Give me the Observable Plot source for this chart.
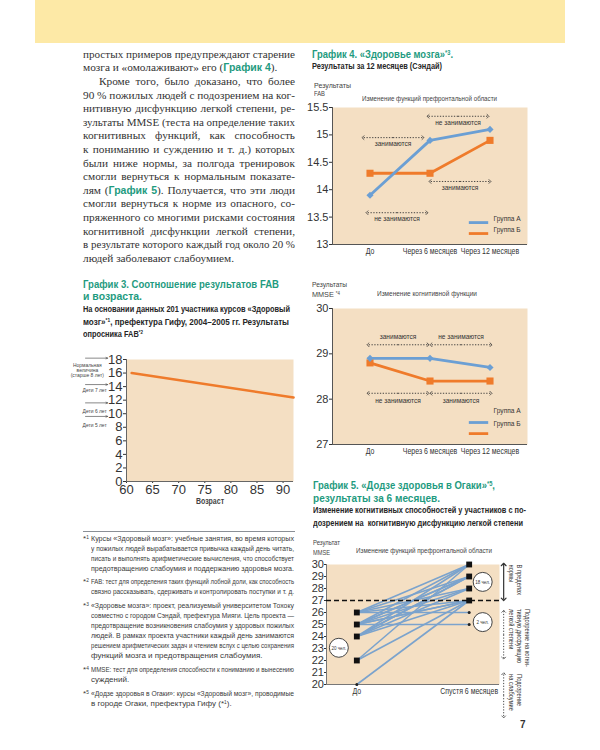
<!DOCTYPE html>
<html lang="ru"><head><meta charset="utf-8">
<script src="https://cdn.jsdelivr.net/npm/d3@7"></script>
<script src="https://cdn.jsdelivr.net/npm/@observablehq/plot@0.6"></script>
<style>
html,body{margin:0;padding:0;background:#fff;}
#page{position:relative;width:600px;height:750px;overflow:hidden;background:#fff;}
.ln{position:absolute;white-space:nowrap;overflow:visible;}
.ser{font-family:"Liberation Serif","DejaVu Serif",serif;font-size:11.3px;color:#333;}
.ttl{font-family:"Liberation Sans Narrow","Liberation Sans",Arial,sans-serif;font-weight:bold;font-size:11.5px;color:#1f9b7f;}
.sub{font-family:"Liberation Sans Narrow","Liberation Sans",Arial,sans-serif;font-weight:bold;font-size:9.5px;color:#262626;}
.sm{font-family:"Liberation Sans Narrow","Liberation Sans",Arial,sans-serif;font-size:7.5px;color:#444;}
.fn{font-family:"Liberation Sans Narrow","Liberation Sans",Arial,sans-serif;font-size:8px;color:#3a3a3a;}
.tl{font-family:"Liberation Sans Narrow","Liberation Sans",sans-serif;font-weight:bold;color:#1f9b7f;font-size:10.5px;}
.sup{font-size:0.6em;vertical-align:0.5em;line-height:0;}
.chart{position:absolute;}
#band{position:absolute;left:35px;top:0;width:530px;height:43px;background:#fde9a6;}
</style></head>
<body><div id="page"><div id="band"></div></div>
<script>
// ---------- DATA ----------
// График 3
const ageTicks = [60, 65, 70, 75, 80, 85, 90];
const fabTicks3 = [0, 2, 4, 6, 8, 10, 12, 14, 16, 18];
const fabAge = [61, 92];
const fabScore = [16.0, 12.4];
const refLabels = ["Нормальная\nвеличина\n(старше 8 лет)", "Дети 7 лет", "Дети 6 лет", "Дети 5 лет"];
const refArrowLevels = [18.2, 14.3, 11.6, 9.6];
const refLabelLevels = [16.4, 13.5, 10.4, 8.3];

// График 4
const periods = ["До", "Через 6 месяцев", "Через 12 месяцев"];
const groups = ["Группа А", "Группа Б"];
const fabA = [13.9, 14.9, 15.1];
const fabB = [14.3, 14.3, 14.9];
const fabTicks4 = [13, 13.5, 14, 14.5, 15, 15.5];
const mmseA = [28.9, 28.9, 28.7];
const mmseB = [28.8, 28.4, 28.4];
const mmseTicks4 = [27, 28, 29, 30];

// График 5
const phases = ["До", "Спустя 6 месяцев"];
const mmseBefore = [26, 26, 26, 26, 25, 25, 25, 25, 25, 25, 24, 24, 24, 24, 24, 22, 22, 20, 25, 26];
const mmseAfter  = [30, 29, 26, 28, 30, 29, 29, 28, 27, 25, 29, 29, 30, 28, 27, 30, 27, 27, 27, 27];
const mmseTicks5 = [20, 21, 22, 23, 24, 25, 26, 27, 28, 29, 30];
const normThreshold = 27;
const peopleLabels = ["20 чел.", "18 чел.", "2 чел."];

// ---------- STYLE ----------
const PEACH = "#f4dfc3", ORANGE = "#ef7b2b", BLUE = "#6b9fd4", LBLUE = "#7ba3cd", INK = "#333";
const SANS = '"Liberation Sans", Arial, sans-serif';
const NARROW = '"Liberation Sans Narrow", "Liberation Sans", Arial, sans-serif';

function measure(font, s) { const c = document.createElement("canvas").getContext("2d"); c.font = font; return c.measureText(s).width; }
const narrowFactor = measure('20px "Liberation Sans Narrow", monospace', "Изменение функций") /
  measure('20px "Liberation Sans", monospace', "Изменение функций") > 0.95 ? 0.82 : 1;

const page = document.getElementById("page");

function addLine(html, o) {
  const d = document.createElement("div");
  d.className = "ln " + (o.cls || "");
  const lh = o.lh || 12;
  d.style.left = o.x + "px";
  d.style.top = (o.y - lh / 2) + "px";
  d.style.lineHeight = lh + "px";
  d.style.height = lh + "px";
  d.style.width = o.w + "px";
  d.innerHTML = "<span>" + html + "</span>";
  page.appendChild(d);
  const s = d.firstChild;
  const w = s.getBoundingClientRect().width;
  if (o.mode === "justify" && w <= o.w) {
    d.style.textAlign = "justify"; d.style.textAlignLast = "justify";
  } else if (o.mode === "justify" || o.mode === "fit" || w > o.w) {
    s.style.display = "inline-block"; s.style.transformOrigin = "0 50%";
    s.style.transform = `scaleX(${o.w / w})`;
  }
}
function condense(svg) {
  if (narrowFactor === 1) return;
  svg.querySelectorAll('g[font-family*="Narrow"] text').forEach(t => {
    const spans = t.querySelectorAll("tspan");
    const items = spans.length ? Array.from(spans) : [t];
    items.forEach(el => {
      const L = el.getComputedTextLength();
      if (L > 0) { el.setAttribute("textLength", L * narrowFactor); el.setAttribute("lengthAdjust", "spacingAndGlyphs"); }
    });
  });
}
function place(svg, left, top, w, h) {
  const d = document.createElement("div");
  d.className = "chart";
  d.style.left = left + "px"; d.style.top = top + "px";
  d.style.width = w + "px"; d.style.height = h + "px";
  d.appendChild(svg);
  page.appendChild(d);
  condense(svg);
}

// ---------- BODY TEXT ----------
const bodyLines = [
  ["простых примеров предупреждают старение", "justify"],
  ['мозга и «омолаживают» его (<span class="tl">График 4</span>).', "left"],
  ["Кроме того, было доказано, что более", "justify", 16],
  ["90 % пожилых людей с подозрением на ког-", "justify"],
  ["нитивную дисфункцию легкой степени, ре-", "justify"],
  ["зультаты MMSE (теста на определение таких", "justify"],
  ["когнитивных функций, как способность", "justify"],
  ["к пониманию и суждению и т. д.) которых", "justify"],
  ["были ниже нормы, за полгода тренировок", "justify"],
  ["смогли вернуться к нормальным показате-", "justify"],
  ['лям (<span class="tl">График 5</span>). Получается, что эти люди', "justify"],
  ["смогли вернуться к норме из опасного, со-", "justify"],
  ["пряженного со многими рисками состояния", "justify"],
  ["когнитивной дисфункции легкой степени,", "justify"],
  ["в результате которого каждый год около 20 %", "justify"],
  ["людей заболевают слабоумием.", "left"]
];
bodyLines.forEach(([t, m, ind], i) => {
  const indent = ind || 0;
  addLine(t, {x: 83 + indent, y: 54.5 + 13.6 * i, w: 212 - indent, cls: "ser", lh: 13.6, mode: m});
});

// ---------- HEADINGS ----------
const S = t => `<span class="sup">${t}</span>`;
addLine("График 3. Соотношение результатов FAB", {x: 83, y: 284, w: 196, cls: "ttl", mode: "fit"});
addLine("и возраста.", {x: 83, y: 295.5, w: 59, cls: "ttl", mode: "fit"});
addLine("На основании данных 201 участника курсов «Здоровый", {x: 83, y: 309, w: 207, cls: "sub", mode: "fit"});
addLine("мозг»" + S("*1") + ", префектура Гифу, 2004–2005 гг. Результаты", {x: 83, y: 321.7, w: 206, cls: "sub", mode: "fit"});
addLine("опросника FAB" + S("*2"), {x: 83, y: 334.3, w: 60, cls: "sub", mode: "fit"});

addLine("График 4. «Здоровье мозга»" + S("*3") + ".", {x: 312, y: 54, w: 141, cls: "ttl", mode: "fit"});
addLine("Результаты за 12 месяцев (Сэндай)", {x: 312, y: 66, w: 130, cls: "sub", mode: "fit"});
addLine("Результаты", {x: 314, y: 85.7, w: 37, cls: "sm", mode: "fit", lh: 7});
addLine("FAB", {x: 314, y: 93, w: 11, cls: "sm", mode: "fit", lh: 7});
addLine("Изменение функций префронтальной области", {x: 362, y: 99, w: 135, cls: "sm", mode: "fit", lh: 8});

addLine("Результаты", {x: 312, y: 284, w: 35, cls: "sm", mode: "fit", lh: 7});
addLine("MMSE " + S("*4"), {x: 312, y: 294, w: 28, cls: "sm", mode: "fit", lh: 7});
addLine("Изменение когнитивной функции", {x: 377, y: 294, w: 100, cls: "sm", mode: "fit", lh: 8});

addLine("График 5. «Додзе здоровья в Огаки»" + S("*5") + ",", {x: 313, y: 485, w: 182, cls: "ttl", mode: "fit"});
addLine("результаты за 6 месяцев.", {x: 313, y: 498, w: 127, cls: "ttl", mode: "fit"});
addLine("Изменение когнитивных способностей у участников с по-", {x: 313, y: 509.5, w: 213, cls: "sub", mode: "fit"});
addLine("дозрением на&nbsp; когнитивную дисфункцию легкой степени", {x: 313, y: 522.5, w: 210, cls: "sub", mode: "fit"});
addLine("Результат", {x: 313, y: 542, w: 27, cls: "sm", mode: "fit", lh: 7});
addLine("MMSE", {x: 313, y: 552, w: 17, cls: "sm", mode: "fit", lh: 7});
addLine("Изменение функций префронтальной области", {x: 356, y: 551, w: 136, cls: "sm", mode: "fit", lh: 8});

// ---------- FOOTNOTES ----------
const rule = document.createElement("div");
Object.assign(rule.style, {position: "absolute", left: "83px", top: "530.5px", width: "212px", height: "1px", background: "#8a8f96"});
page.appendChild(rule);
const footnotes = [
  {n: "1", y: 539, lines: [
    "Курсы «Здоровый мозг»: учебные занятия, во время которых",
    "у пожилых людей вырабатывается привычка каждый день читать,",
    "писать и выполнять арифметические вычисления, что способствует",
    "предотвращению слабоумия и поддержанию здоровья мозга."]},
  {n: "2", y: 582, lines: [
    "FAB: тест для определения таких функций лобной доли, как способность",
    "связно рассказывать, сдерживать и контролировать поступки и т. д."]},
  {n: "3", y: 606, lines: [
    "«Здоровье мозга»: проект, реализуемый университетом Тохоку",
    "совместно с городом Сэндай, префектура Мияги. Цель проекта —",
    "предотвращение возникновения слабоумия у здоровых пожилых",
    "людей. В рамках проекта участники каждый день занимаются",
    "решением арифметических задач и чтением вслух с целью сохранения",
    "функций мозга и предотвращения слабоумия."]},
  {n: "4", y: 670, lines: [
    "MMSE: тест для определения способности к пониманию и вынесению",
    "суждений."]},
  {n: "5", y: 694, lines: [
    "«Додзе здоровья в Огаки»: курсы «Здоровый мозг», проводимые",
    "в городе Огаки, префектура Гифу (*" + S("1") + ")."]}
];
footnotes.forEach(f => {
  addLine("*" + S(f.n), {x: 83, y: f.y, w: 8, cls: "fn", lh: 10.1, mode: "left"});
  f.lines.forEach((t, i) => {
    const last = i === f.lines.length - 1;
    addLine(t, {x: 91, y: f.y + 10.1 * i, w: 203, cls: "fn", lh: 10.1, mode: last ? "left" : "justify"});
  });
});
const pn = document.createElement("div");
Object.assign(pn.style, {position: "absolute", left: "520px", top: "719px", font: "bold 10px " + SANS, color: "#333"});
pn.textContent = "7";
page.appendChild(pn);

// ---------- ГРАФИК 3 ----------
{
  const rows = fabAge.map((a, i) => ({age: a, fab: fabScore[i]}));
  const x0 = ageTicks[0];
  const refs = refLabels.map((t, i) => ({label: t, arrowY: refArrowLevels[i], labelY: refLabelLevels[i]}));
  const svg = Plot.plot({
    width: 260, height: 160, marginLeft: 86, marginRight: 7, marginTop: 9, marginBottom: 29,
    style: {fontFamily: SANS, fontSize: "13px", color: INK, background: "transparent", overflow: "visible"},
    x: {domain: [60, 92], ticks: ageTicks, tickSize: 2, tickPadding: 1, label: null},
    y: {domain: [0, 18], ticks: fabTicks3, tickSize: 3, tickPadding: 1, label: null},
    marks: [
      Plot.frame({fill: PEACH, stroke: null}),
      Plot.ruleX([60], {stroke: "#666"}),
      Plot.ruleY([0], {stroke: "#666"}),
      Plot.line(rows, {x: "age", y: "fab", stroke: ORANGE, strokeWidth: 2.6}),
      Plot.arrow(refs, {x1: () => x0 - 7.85, x2: () => x0 - 3.6, y1: "arrowY", y2: "arrowY",
        stroke: "#555", strokeWidth: 0.7, headLength: 4, headAngle: 45}),
      Plot.text(refs.slice(0, 1), {x: () => x0 - 7.5, y: "labelY", text: "label",
        fontFamily: NARROW, fontSize: 6, lineHeight: 0.85, fill: "#444"}),
      Plot.text(refs.slice(1), {x: () => x0 - 3.8, y: "labelY", text: "label", textAnchor: "end",
        fontFamily: NARROW, fontSize: 6, fill: "#444"}),
      Plot.text(["Возраст"], {text: d => d, frameAnchor: "bottom", dy: 22, fontFamily: NARROW, fontSize: 8.5, fontWeight: "bold", fill: "#444"})
    ]
  });
  place(svg, 40, 350, 260, 160);
}

// ---------- ГРАФИК 4 ----------
const xDom4 = [-0.625, 2.625];
function chart4({a, b, yDomain, yTicks, notes, legend, marginTop}) {
  const rowsA = a.map((v, i) => ({i, v}));
  const rowsB = b.map((v, i) => ({i, v}));
  const noteMarks = notes.flatMap(n => {
    const mid = (n.from + n.to) / 2;
    const halves = [{x1: mid, x2: n.from, y: n.y}, {x1: mid, x2: n.to, y: n.y}];
    return [
      Plot.link(halves, {x1: "x1", x2: "x2", y1: "y", y2: "y", dx: n.dx, stroke: "#333", strokeWidth: 0.9,
        strokeDasharray: "1.3,1.5", markerEnd: "arrow"}),
      Plot.text([n], {x: () => mid, y: "y", dx: n.dx, dy: n.dy, text: "label",
        fontFamily: NARROW, fontSize: 8, fill: "#333"})
    ];
  });
  const leg = groups.map((g, k) => ({g, color: k === 0 ? BLUE : ORANGE, lineY: legend.lineY[k], textY: legend.textY[k]}));
  return Plot.plot({
    width: 265, height: 160, marginLeft: 32, marginRight: 38, marginTop, marginBottom: 16,
    style: {fontFamily: SANS, fontSize: "11px", color: INK, background: "transparent", overflow: "visible"},
    x: {domain: xDom4, axis: null},
    y: {domain: yDomain, ticks: yTicks, tickFormat: d => String(d), tickSize: 3, tickPadding: 1, label: null},
    marks: [
      Plot.frame({fill: PEACH, stroke: null}),
      Plot.ruleX([xDom4[0]], {stroke: "#555"}),
      Plot.ruleY([yDomain[0]], {stroke: "#555"}),
      Plot.text(periods, {x: (d, i) => i, text: d => d, frameAnchor: "bottom", dy: 9, fontFamily: NARROW, fontSize: 8.5, fill: "#333"}),
      ...noteMarks,
      Plot.line(rowsB, {x: "i", y: "v", stroke: ORANGE, strokeWidth: 2.8}),
      Plot.line(rowsA, {x: "i", y: "v", stroke: BLUE, strokeWidth: 2.8}),
      Plot.dot(rowsB, {x: "i", y: "v", symbol: "square", r: 4, fill: ORANGE}),
      Plot.dot(rowsA, {x: "i", y: "v", symbol: "diamond2", r: 3.2, fill: BLUE}),
      Plot.link(leg, {x1: () => 1.647, x2: () => 1.97, y1: "lineY", y2: "lineY", stroke: "color", strokeWidth: 2.8}),
      Plot.text(leg, {x: () => 2.06, y: "textY", text: "g", textAnchor: "start", fontFamily: NARROW, fontSize: 8, fill: "#333"})
    ]
  });
}
place(chart4({
  a: fabA, b: fabB, yDomain: [13, 15.5], yTicks: fabTicks4, marginTop: 7,
  notes: [
    {from: 0, to: 1, y: 14.95, label: "занимаются", dx: -7, dy: 6},
    {from: 1, to: 2, y: 15.34, label: "не занимаются", dx: -2, dy: 6},
    {from: 1, to: 2, y: 14.15, label: "занимаются", dx: 0, dy: 6},
    {from: 0, to: 1, y: 13.58, label: "не занимаются", dx: -3, dy: 6}
  ],
  legend: {lineY: [13.40, 13.20], textY: [13.47, 13.27]}
}), 300, 100, 265, 160);
place(chart4({
  a: mmseA, b: mmseB, yDomain: [27, 30], yTicks: mmseTicks4, marginTop: 8,
  notes: [
    {from: 0, to: 1, y: 29.2, label: "занимаются", dx: -2, dy: -8},
    {from: 1, to: 2, y: 29.2, label: "не занимаются", dx: 1, dy: -8},
    {from: 0, to: 1, y: 28.13, label: "не занимаются", dx: -2, dy: 7},
    {from: 1, to: 2, y: 28.13, label: "занимаются", dx: 1, dy: 7}
  ],
  legend: {lineY: [27.485, 27.24], textY: [27.75, 27.46]}
}), 300, 300, 265, 160);

// ---------- ГРАФИК 5 ----------
{
  const pairs = mmseBefore.map((b, i) => ({before: b, after: mmseAfter[i]}));
  const yMin = mmseTicks5[0];
  const beforeVals = Array.from(new Set(mmseBefore));
  const afterVals = Array.from(new Set(mmseAfter));
  const sq = [...beforeVals.filter(v => v > yMin).map(v => ({x: 0, v})), ...afterVals.filter(v => v >= normThreshold).map(v => ({x: 1, v}))];
  const small = [...beforeVals.filter(v => v === yMin).map(v => ({x: 0, v})), ...afterVals.filter(v => v < normThreshold).map(v => ({x: 1, v}))];
  const people = [
    {label: peopleLabels[0], x: 0, y: 23.06, dx: -18},
    {label: peopleLabels[1], x: 1, y: 28.55, dx: 13.5},
    {label: peopleLabels[2], x: 1, y: 25.2, dx: 13.5}
  ];
  const peopleMarks = people.flatMap(p => [
    Plot.dot([p], {x: "x", y: "y", dx: p.dx, r: 9.5, fill: "white", stroke: "#444", strokeWidth: 1}),
    Plot.text([p], {x: "x", y: "y", dx: p.dx, text: "label", fontFamily: NARROW, fontSize: 5.5, fill: "#333"})
  ]);
  const brackets = [
    {a: 30, b: 27.1, dash: null, w: 1.2},
    {a: 26.1, b: 22.2, dash: "1.2,1.6", w: 0.9},
    {a: 20.9, b: 17.3, dash: "1.2,1.6", w: 0.9}
  ];
  const bracketMarks = brackets.map(k => {
    const mid = (k.a + k.b) / 2;
    return Plot.link([{y1: mid, y2: k.a}, {y1: mid, y2: k.b}], {x1: () => 1, x2: () => 1, y1: "y1", y2: "y2", dx: 34.5,
      stroke: "#333", strokeWidth: k.w, strokeDasharray: k.dash || undefined, markerEnd: "arrow"});
  });
  const sideNotes = [
    {y: 30, lines: ["В пределах", "нормы"]},
    {y: 26.3, lines: ["Подозрение на когни-", "тивную дисфункцию", "легкой степени"]},
    {y: 20.87, lines: ["Подозрение", "на слабоумие"]}
  ];
  const sideMarks = sideNotes.flatMap(n => n.lines.map((t, k) =>
    Plot.text([t], {x: () => 1, y: () => n.y, dx: 42.5 + (n.lines.length - 1 - k) * 8, text: d => d, rotate: 90,
      textAnchor: "start", fontFamily: NARROW, fontSize: 7, fill: "#333"})));
  const svg = Plot.plot({
    width: 265, height: 170, marginLeft: 26, marginRight: 66, marginTop: 9, marginBottom: 41,
    style: {fontFamily: SANS, fontSize: "11px", color: INK, background: "transparent", overflow: "visible"},
    x: {domain: [-0.27, 1.27], axis: null},
    y: {domain: [20, 30], ticks: mmseTicks5, tickSize: 2, tickPadding: 0.5, label: null},
    marks: [
      Plot.frame({fill: PEACH, stroke: null}),
      Plot.ruleX([-0.27], {stroke: "#777"}),
      Plot.ruleY([20], {stroke: "#777"}),
      Plot.text(phases, {x: (d, i) => i, text: d => d, frameAnchor: "bottom", dy: 9, fontFamily: NARROW, fontSize: 8.5, fill: "#333"}),
      Plot.link(pairs, {x1: () => 0, x2: () => 1, y1: "before", y2: "after", stroke: LBLUE, strokeWidth: 1.6}),
      Plot.ruleY([normThreshold], {stroke: "#111", strokeWidth: 1.3, strokeDasharray: "5,3"}),
      Plot.dot(sq, {x: "x", y: "v", symbol: "square", r: 3.3, fill: "#111"}),
      Plot.dot(small, {x: "x", y: "v", r: 1.5, fill: "#222"}),
      ...peopleMarks,
      ...bracketMarks,
      ...sideMarks
    ]
  });
  place(svg, 300, 555, 265, 170);
}
</script>
</body></html>
